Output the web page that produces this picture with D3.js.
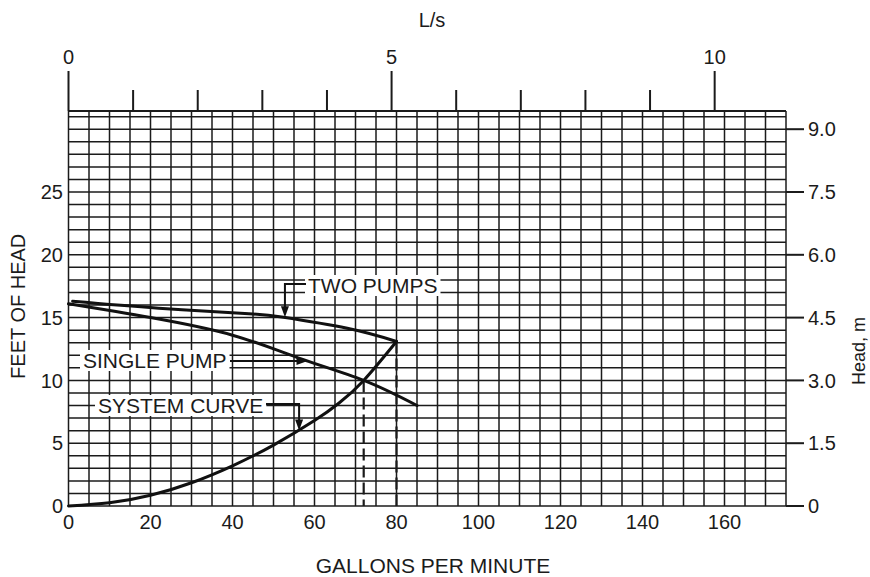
<!DOCTYPE html>
<html>
<head>
<meta charset="utf-8">
<script src="https://cdn.jsdelivr.net/npm/d3@7"></script>
<style>
  body { margin: 0; background: #fff; }
  svg { display: block; }
  text { font-family: "Liberation Sans", Arial, Helvetica, sans-serif; fill: #1b1b1b; }
</style>
</head>
<body>
<svg id="chart" width="870" height="577"></svg>
<script>
// ---- data ----
const gpmTicks = [0, 20, 40, 60, 80, 100, 120, 140, 160];
const feetTicks = [0, 5, 10, 15, 20, 25];
const meterTicks = [0, 1.5, 3.0, 4.5, 6.0, 7.5, 9.0];
const lpsTicks = [0, 1, 2, 3, 4, 5, 6, 7, 8, 9, 10];
const lpsLabelled = [0, 5, 10];

// system curve (head rises with flow)
const systemGpm    = [0, 10, 20, 30, 40, 50, 60, 66, 72, 80];
const systemHeadFt = [0, 0.25, 0.85, 1.85, 3.2, 4.85, 6.8, 8.2, 10.0, 13.1];
// one pump running
const singleGpm    = [0, 20, 40, 56, 72, 85];
const singleHeadFt = [16.1, 15.0, 13.6, 11.8, 10.0, 8.0];
// two pumps in parallel
const twoGpm       = [1, 22, 44, 52, 68, 80];
const twoHeadFt    = [16.3, 15.75, 15.3, 15.05, 14.15, 13.1];

// operating points (flow, head)
const opSingle = [72, 10.0];
const opTwo    = [80, 13.1];

const GPM_PER_LPS = 15.76;

// ---- scales ----
const svg = d3.select("#chart");
const x = d3.scaleLinear().domain([0, 175]).range([68.5, 786]);
const yFt = d3.scaleLinear().domain([0, 25]).range([506, 192]);
const yM = d3.scaleLinear().domain([0, 9]).range([yFt(0), yFt(30)]);
const ftTop = 31.45;
const ink = "#1b1b1b";

// ---- grid ----
const grid = svg.append("g").attr("stroke", ink).attr("stroke-width", 1.5);
grid.selectAll("line.v").data(d3.range(0, 176, 5)).join("line")
  .attr("x1", d => x(d)).attr("x2", d => x(d))
  .attr("y1", yFt(0)).attr("y2", yFt(ftTop));
grid.selectAll("line.h").data(d3.range(0, 32, 1)).join("line")
  .attr("x1", x(0)).attr("x2", x(175))
  .attr("y1", d => yFt(d)).attr("y2", d => yFt(d));
grid.append("line").attr("x1", x(0)).attr("x2", x(175))
  .attr("y1", yFt(ftTop)).attr("y2", yFt(ftTop)).attr("stroke-width", 2);

// ---- top axis (L/s) ----
const xL = v => x(v * GPM_PER_LPS);
svg.append("g").attr("stroke", ink).attr("stroke-width", 2)
  .selectAll("line").data(lpsTicks).join("line")
  .attr("x1", d => xL(d)).attr("x2", d => xL(d))
  .attr("y1", yFt(ftTop))
  .attr("y2", d => yFt(ftTop) - (lpsLabelled.includes(d) ? 40 : 21));
svg.append("g").selectAll("text").data(lpsLabelled).join("text")
  .attr("x", d => xL(d)).attr("y", 64)
  .attr("text-anchor", "middle").attr("font-size", 20)
  .text(d => d);
svg.append("text").attr("x", 432).attr("y", 27)
  .attr("text-anchor", "middle").attr("font-size", 20).text("L/s");

// ---- bottom axis (gpm) ----
svg.append("g").selectAll("text").data(gpmTicks).join("text")
  .attr("x", d => x(d)).attr("y", 529)
  .attr("text-anchor", "middle").attr("font-size", 20)
  .text(d => d);
svg.append("text").attr("x", 433).attr("y", 573)
  .attr("text-anchor", "middle").attr("font-size", 21).text("GALLONS PER MINUTE");

// ---- left axis (feet) ----
svg.append("g").selectAll("text").data(feetTicks).join("text")
  .attr("x", 63).attr("y", d => yFt(d)).attr("dy", "0.36em")
  .attr("text-anchor", "end").attr("font-size", 20)
  .text(d => d);
svg.append("text")
  .attr("transform", `translate(25,${yFt(15.9)}) rotate(-90)`)
  .attr("text-anchor", "middle").attr("font-size", 20).text("FEET OF HEAD");

// ---- right axis (metres) ----
const rAxis = svg.append("g");
rAxis.selectAll("line").data(meterTicks).join("line")
  .attr("x1", x(175)).attr("x2", x(175) + 18)
  .attr("y1", d => yM(d)).attr("y2", d => yM(d))
  .attr("stroke", ink).attr("stroke-width", 2);
rAxis.selectAll("text").data(meterTicks).join("text")
  .attr("x", x(175) + 22).attr("y", d => yM(d)).attr("dy", "0.36em")
  .attr("font-size", 20)
  .text(d => d === 0 ? "0" : d3.format(".1f")(d));
svg.append("text")
  .attr("transform", `translate(865,${yM(3.7)}) rotate(-90)`)
  .attr("text-anchor", "middle").attr("font-size", 18).text("Head, m");

// ---- operating point drop lines ----
svg.append("g").attr("stroke", ink).attr("stroke-width", 2.2)
  .attr("stroke-dasharray", "12,5")
  .selectAll("line").data([opSingle, opTwo]).join("line")
  .attr("x1", d => x(d[0])).attr("x2", d => x(d[0]))
  .attr("y1", d => yFt(d[1])).attr("y2", yFt(0));

// ---- curves ----
const line = d3.line().x(d => x(d[0])).y(d => yFt(d[1])).curve(d3.curveNatural);
const series = [
  d3.zip(systemGpm, systemHeadFt),
  d3.zip(singleGpm, singleHeadFt),
  d3.zip(twoGpm, twoHeadFt)
];
svg.append("g").attr("fill", "none").attr("stroke", "#111").attr("stroke-width", 3)
  .attr("stroke-linecap", "round")
  .selectAll("path").data(series).join("path").attr("d", line);

// ---- callouts ----
const headAt = (xs, ys, q) => d3.scaleLinear().domain(xs).range(ys)(q);
const arrowHead = (g, tx, ty, dir) => {
  const pts = dir === "down"
    ? [[tx, ty], [tx - 4, ty - 11], [tx + 4, ty - 11]]
    : [[tx, ty], [tx - 11, ty - 4], [tx - 11, ty + 4]];
  g.append("path").attr("d", d3.line()(pts) + "Z").attr("fill", "#111");
};
const labelBox = (g, tx, base, str) => {
  const t = g.append("text").attr("x", tx).attr("y", base).attr("font-size", 21).text(str);
  const b = t.node().getBBox();
  g.insert("rect", "text").attr("x", b.x - 3).attr("y", b.y + 1)
    .attr("width", b.width + 6).attr("height", b.height - 2).attr("fill", "#fff");
};
const callouts = svg.append("g");

// TWO PUMPS: elbow leader down to the curve
{
  const q = 52.3, tx = x(q), ty = yFt(headAt(twoGpm, twoHeadFt, q));
  const g = callouts.append("g");
  labelBox(g, 308, 293, "TWO PUMPS");
  g.append("path").attr("d", `M306,284 H${tx + 2} V${ty - 9}`)
    .attr("fill", "none").attr("stroke", "#111").attr("stroke-width", 2);
  arrowHead(g, tx + 2, ty, "down");
}
// SINGLE PUMP: straight leader across to the curve
{
  const q = 58.3, tx = x(q), ty = yFt(headAt(singleGpm, singleHeadFt, q));
  const g = callouts.append("g");
  labelBox(g, 83, 368, "SINGLE PUMP");
  g.append("path").attr("d", `M230,${ty} H${tx - 9}`)
    .attr("fill", "none").attr("stroke", "#111").attr("stroke-width", 2);
  arrowHead(g, tx, ty, "right");
}
// SYSTEM CURVE: elbow leader down to the curve
{
  const q = 56.0, tx = x(q), ty = yFt(headAt(systemGpm, systemHeadFt, q));
  const g = callouts.append("g");
  labelBox(g, 98, 413, "SYSTEM CURVE");
  g.append("path").attr("d", `M266,404 H${tx + 1} V${ty - 9}`)
    .attr("fill", "none").attr("stroke", "#111").attr("stroke-width", 2);
  arrowHead(g, tx + 1, ty, "down");
}
</script>
</body>
</html>
